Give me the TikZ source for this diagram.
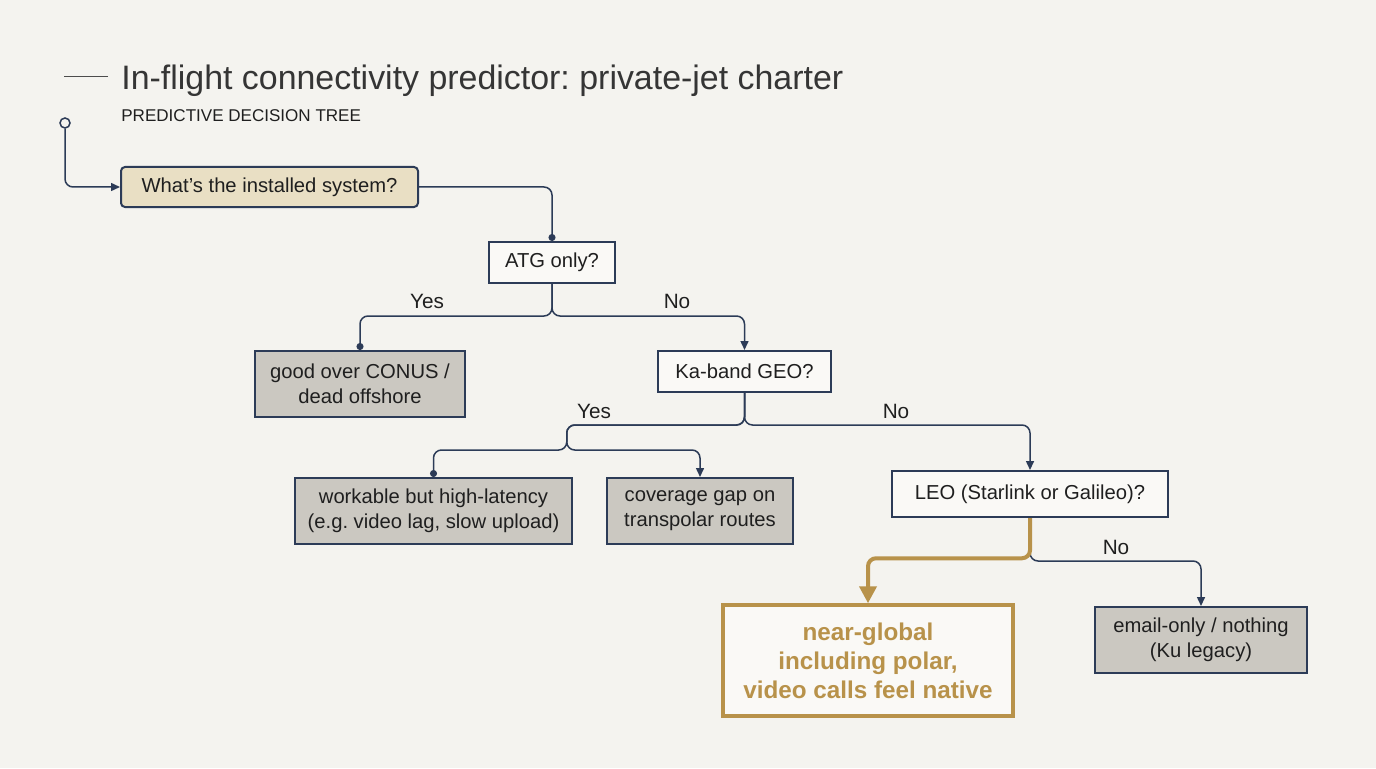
\documentclass[tikz,border=0pt]{standalone}
\usepackage{fontspec}
\setmainfont{Liberation Sans}
\usetikzlibrary{arrows.meta,calc}
\frenchspacing

\definecolor{bg}{HTML}{F4F3EF}
\definecolor{ink}{HTML}{2C3B57}
\definecolor{txt}{HTML}{1F1F1F}
\definecolor{sand}{HTML}{E9DFC4}
\definecolor{stone}{HTML}{CBC8C1}
\definecolor{gold}{HTML}{B8924A}
\definecolor{paper}{HTML}{FAF9F6}

\begin{document}
\begin{tikzpicture}[
            qs/.style={draw=ink,line width=0.4mm,fill=paper,rectangle,minimum height=8.2mm,text=txt,font=\fontsize{11.5}{14.2}\selectfont,align=center,inner xsep=1mm},
            root/.style={qs,fill=sand,rounded corners=0.8mm,minimum height=8mm},
            res/.style={qs,fill=stone,minimum height=13.2mm},
            best/.style={draw=gold,line width=0.7mm,fill=paper,rectangle,minimum width=58mm,minimum height=22.2mm,text=gold,font=\fontsize{13.8}{16.5}\selectfont\bfseries,align=center},
            startdot/.style={circle,draw=ink,line width=0.3mm,fill=bg,minimum size=2mm,inner sep=0},
            link/.style={draw=ink,line width=0.3mm,rounded corners=1.6mm},
            todot/.style={link,-{Circle[length=1.4mm]}},
            toarr/.style={link,-{Triangle[length=1.8mm,width=1.6mm]}},
            hot/.style={draw=gold,line width=0.8mm,rounded corners=1.6mm,-{Triangle[length=3.4mm,width=3.4mm]}},
            lbl/.style={text=txt,font=\fontsize{11.8}{14}\selectfont},
        ]

        \tikzset{
            node distance=20mm,
        }

        \fill[bg] (0,0) rectangle (275.2mm,-153.6mm);
        \useasboundingbox (0,0) rectangle (275.2mm,-153.6mm);

        % heading
        \node[anchor=base west,inner sep=0,text=txt!90,font=\fontsize{19.3}{23}\selectfont] (title) at (24.2mm,-18mm) {In-flight connectivity predictor: private-jet charter};
        \node[anchor=base west,inner sep=0,text=txt,font=\fontsize{9.7}{11}\selectfont] (sub) at (24.2mm,-24.3mm) {PREDICTIVE DECISION TREE};
        \draw[txt!80,line width=0.2mm] ($(title.base west)+(-2.6mm,2.6mm)$) -- ++(-8.8mm,0);

        % tree
        \node[startdot] (start) at (13mm,-24.6mm) {};
        \node[root,minimum width=59.4mm] (system) at (53.9mm,-37.4mm) {What’s the installed system?};
        \node[qs,below of=system,xshift=56.5mm,yshift=4.9mm,minimum width=25.2mm] (atg) {ATG only?};
        \node[res,below of=atg,xshift=-38.4mm,yshift=-4.3mm,minimum width=42mm] (conus) {good over CONUS /\\dead offshore};
        \node[qs,below of=atg,xshift=38.5mm,yshift=-1.8mm,minimum width=34.6mm] (geo) {Ka-band GEO?};
        \node[res,below of=geo,xshift=-62.2mm,yshift=-7.9mm,minimum width=55.4mm] (lag) {workable but high-latency\\(e.g. video lag, slow upload)};
        \node[res,below of=geo,xshift=-8.9mm,yshift=-7.9mm,minimum width=37.2mm] (gap) {coverage gap on\\transpolar routes};
        \node[qs,below of=geo,xshift=57.1mm,yshift=-4.5mm,minimum width=55.2mm,minimum height=9.2mm] (leo) {LEO (Starlink or Galileo)?};
        \node[best,below of=leo,xshift=-32.4mm,yshift=-13.3mm] (native) {near-global\\including polar,\\video calls feel native};
        \node[res,below of=leo,xshift=34.2mm,yshift=-9.2mm,minimum width=42.4mm] (email) {email-only / nothing\\(Ku legacy)};
        \coordinate (fork) at ($(lag.north)!.5!(gap.north)$);

        \draw[toarr] (start) |- (system);
        \draw[todot] (system) -| (atg);
        \draw[todot] (atg) |- ([yshift=6.8mm]conus.north) -- (conus);
        \draw[toarr] (atg) |- ([yshift=6.8mm]geo.north) -- (geo);
        \draw[todot] (geo) |- ([yshift=10.4mm]fork) |- ([yshift=5.4mm]lag.north) -- (lag);
        \draw[toarr] (geo) |- ([yshift=10.4mm]fork) |- ([yshift=5.4mm]gap.north) -- (gap);
        \draw[toarr] (geo) |- ([yshift=9mm]leo.north) -- (leo);
        \draw[toarr] (leo) |- ([yshift=9mm]email.north) -- (email);
        \draw[hot] (leo) |- ([yshift=9mm]native.north) -- (native);

        \node[lbl] (yes1) at (85.4mm,-60.2mm) {Yes};
        \node[lbl] (no1) at (135.4mm,-60.2mm) {No};
        \node[lbl] (yes2) at (118.8mm,-82.2mm) {Yes};
        \node[lbl] (no2) at (179.2mm,-82.2mm) {No};
        \node[lbl] (no3) at (223.2mm,-109.4mm) {No};

\end{tikzpicture}
\end{document}
